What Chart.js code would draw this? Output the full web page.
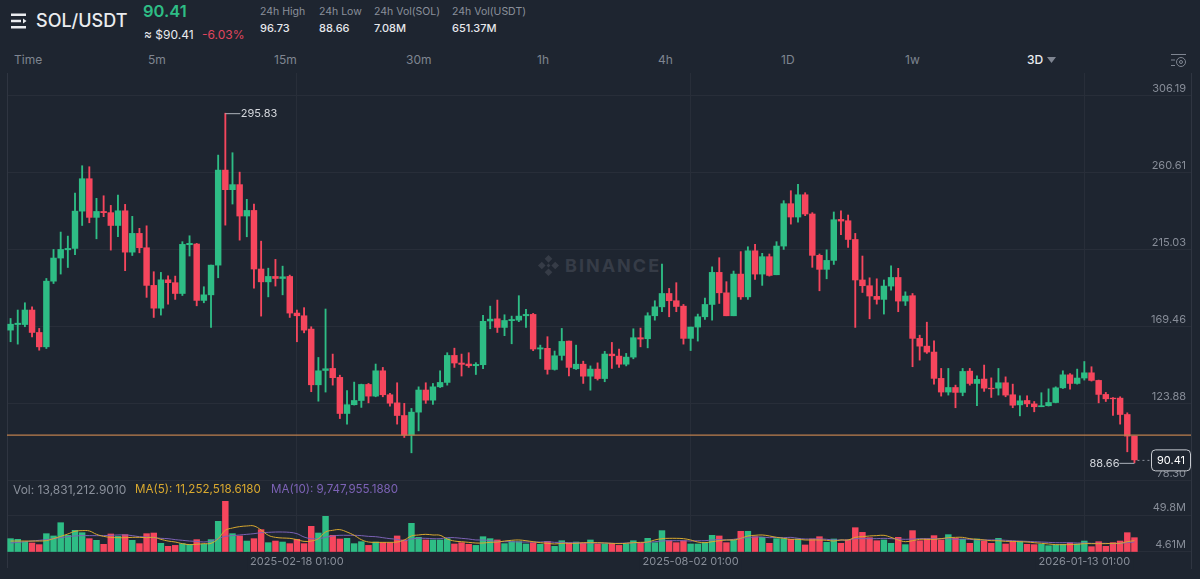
<!DOCTYPE html>
<html>
<head>
<meta charset="utf-8">
<title>SOL/USDT</title>
<script src="https://cdn.jsdelivr.net/npm/chart.js@4/dist/chart.umd.min.js"></script>
<style>
    html, body { margin: 0; padding: 0; background: #1e2530; }
    body { position: relative; width: 1200px; height: 579px; overflow: hidden; font-family: Inter, "Noto Sans", sans-serif; color: #eaecef; }
    .t { position: absolute; white-space: nowrap; line-height: 1; }
    canvas { position: absolute; left: 0; }
    #price-canvas { top: 0; }
    #volume-canvas { top: 481px; }
    .gray { color: #8a909b; }
    .small { font-size: 10.5px; }
    .stat { font-size: 11px; font-weight: 500; color: #e6e8ec; }
    .tab { font-size: 12px; color: #7f8591; top: 54px; }
    .legend { font-size: 11.6px; top: 484px; }
</style>
</head>
<body>
<svg style="position:absolute;left:10px;top:12px" width="18" height="18" viewBox="0 0 18 18">
    <path d="M1 1.5h15v2.4H1zM1 7.8h10v2.4H1zM1 14.1h15v2.4H1z" fill="#eaecef"/>
    <path d="M13 6.6l3.5 2.4-3.5 2.4z" fill="#eaecef"/>
</svg>
<div class="t" style="left:36px;top:12px;font-size:18px;font-weight:500">SOL/USDT</div>
<div class="t" style="left:143px;top:3px;font-size:16.5px;font-weight:600;color:#2ebd85">90.41</div>
<div class="t" style="left:144px;top:28.5px;font-size:12px">≈ $90.41</div>
<div class="t" style="left:202px;top:28.5px;font-size:12px;color:#e0455e">-6.03%</div>
<div class="t gray small" style="left:260px;top:7px">24h High</div>
<div class="t stat" style="left:260px;top:23px">96.73</div>
<div class="t gray small" style="left:319px;top:7px">24h Low</div>
<div class="t stat" style="left:319px;top:23px">88.66</div>
<div class="t gray small" style="left:374px;top:7px">24h Vol(SOL)</div>
<div class="t stat" style="left:374px;top:23px">7.08M</div>
<div class="t gray small" style="left:452px;top:7px">24h Vol(USDT)</div>
<div class="t stat" style="left:452px;top:23px">651.37M</div>
<div class="t tab" style="left:14px">Time</div>
<div class="t tab" style="left:148px">5m</div>
<div class="t tab" style="left:274px">15m</div>
<div class="t tab" style="left:406px">30m</div>
<div class="t tab" style="left:537px">1h</div>
<div class="t tab" style="left:658px">4h</div>
<div class="t tab" style="left:781px">1D</div>
<div class="t tab" style="left:905px">1w</div>
<div class="t tab" style="left:1027px;color:#eaecef;font-weight:500">3D</div>
<svg style="position:absolute;left:1047px;top:57px" width="9" height="6"><path d="M0 0h9L4.5 6z" fill="#7f8591"/></svg>
<svg style="position:absolute;left:1170px;top:53px" width="17" height="16" fill="none" stroke="#7f8591" stroke-width="1">
    <path d="M1 1.5h15M1 7h4M1 12.5h4"/><circle cx="11" cy="9" r="4.5"/><circle cx="11" cy="9" r="1.5"/>
</svg>
<svg style="position:absolute;left:537px;top:254px" width="23" height="23" viewBox="0 0 24 24" fill="#363c47">
    <path d="M12 1l4 4-4 4-4-4zM5 8l4 4-4 4-4-4zM19 8l4 4-4 4-4-4zM12 15l4 4-4 4-4-4zM12 10l2 2-2 2-2-2z"/>
</svg>
<div class="t" style="left:565px;top:257px;font-size:18px;font-weight:700;color:#363c47;letter-spacing:2px">BINANCE</div>
<canvas id="price-canvas" width="1200" height="481"></canvas>
<canvas id="volume-canvas" width="1200" height="98"></canvas>
<div class="t legend" style="left:13px;color:#8a909b;font-size:12px">Vol: 13,831,212.9010</div>
<div class="t legend" style="left:135px;color:#d9a92f">MA(5): 11,252,518.6180</div>
<div class="t legend" style="left:271px;color:#7c62b5">MA(10): 9,747,955.1880</div>

<script>
const opens = [
    167.3,170.6,170.6,179.2,165.9,157.4,196.3,210.0,214.9,215.7,
    237.8,257.0,234.1,237.6,236.9,229.3,238.0,213.5,224.6,216.1,
    193.8,180.3,197.1,195.4,189.0,217.9,218.3,184.9,188.2,205.8,
    262.1,250.5,253.5,234.9,238.2,203.5,195.9,199.1,197.9,199.1,
    177.4,175.8,167.9,134.9,143.4,144.6,139.3,117.9,123.1,125.6,
    135.1,128.2,143.2,129.0,124.2,116.7,105.1,118.7,131.8,125.8,
    133.7,136.3,152.3,147.8,147.2,146.2,146.8,172.7,174.0,168.9,
    172.9,173.2,175.8,176.6,156.1,156.5,144.0,152.3,160.8,144.4,
    147.1,140.0,144.2,138.6,153.1,151.9,147.1,151.3,162.8,162.2,
    175.8,181.1,189.0,184.7,181.5,162.4,169.1,175.2,182.5,201.5,
    189.4,175.8,200.5,187.0,214.3,200.5,210.8,200.1,217.1,242.2,
    234.3,247.5,236.1,211.6,203.3,208.6,232.9,232.1,221.0,197.0,
    193.6,187.3,185.5,193.4,198.5,184.5,187.7,162.4,157.8,154.3,
    138.7,130.6,133.3,130.4,143.0,135.7,138.3,132.9,132.9,136.1,
    129.0,123.0,125.6,123.6,121.9,122.5,124.4,133.1,140.8,135.7,
    138.9,142.0,137.5,129.2,127.0,127.0,117.3,104.5
];
const closes = [
    170.8,171.4,179.2,165.9,157.4,196.3,210.0,215.1,215.7,237.8,
    257.0,234.1,237.6,236.9,229.3,238.0,213.5,224.6,216.1,193.8,
    180.3,197.1,195.4,189.0,218.1,218.7,184.9,188.2,205.8,262.1,
    250.5,253.5,234.9,238.2,203.5,195.9,199.1,197.9,198.9,177.4,
    175.8,167.3,134.9,143.2,144.4,139.1,117.9,123.1,125.6,135.1,
    128.2,143.2,129.0,124.0,116.7,105.1,118.7,131.8,125.8,133.7,
    136.3,152.3,147.8,147.0,146.2,147.0,172.5,173.8,168.9,173.0,
    173.6,175.6,176.6,156.1,156.8,144.0,152.1,160.6,145.2,147.1,
    140.0,144.2,138.6,153.1,152.1,147.1,151.3,162.8,162.0,175.8,
    181.1,189.0,184.7,181.3,162.4,169.1,175.2,182.5,201.5,189.4,
    175.8,200.5,187.0,214.3,200.5,210.8,199.7,217.1,242.2,234.3,
    247.5,236.1,211.6,203.3,208.6,232.7,231.9,221.0,197.0,193.6,
    187.5,185.5,193.4,198.5,184.5,187.5,162.4,157.8,154.3,138.7,
    130.6,133.3,130.4,142.8,135.7,138.1,132.9,132.5,136.1,128.8,
    122.8,125.4,123.6,121.9,122.5,124.4,133.1,140.8,135.7,138.9,
    142.0,137.5,129.2,126.6,126.6,117.3,104.5,90.41
];
const highs = [
    174.2,179.2,183.5,181.1,168.3,197.9,215.1,225.4,223.0,248.5,
    264.7,264.1,245.4,246.9,241.2,247.3,241.8,234.7,227.6,229.1,
    201.9,201.5,199.5,199.3,219.7,223.2,218.7,193.0,205.8,271.0,
    295.83,272.4,260.9,244.8,242.0,220.0,204.0,209.2,205.2,199.9,
    179.2,180.6,169.3,151.1,179.8,153.1,140.6,131.4,136.5,135.3,
    135.7,147.2,145.2,129.8,136.1,123.9,120.9,133.7,136.1,135.7,
    143.2,153.9,156.6,153.1,153.9,148.0,176.0,181.5,185.1,176.4,
    175.6,187.7,179.6,177.2,158.4,163.4,154.9,168.3,160.8,158.4,
    148.9,146.1,147.9,154.7,160.0,156.0,153.5,168.1,168.5,177.6,
    184.7,206.4,192.0,195.4,182.5,169.1,176.8,186.3,204.8,210.2,
    196.0,202.3,213.8,216.7,218.1,212.8,212.4,219.7,244.0,249.9,
    253.7,248.7,236.9,212.4,214.9,237.3,238.0,235.5,224.6,211.2,
    198.3,197.7,197.0,205.4,203.9,190.0,189.0,164.3,172.0,161.0,
    144.6,144.6,134.7,144.6,144.6,140.2,146.6,139.0,144.6,139.6,
    135.3,128.4,128.4,125.0,130.2,132.5,133.7,143.2,141.6,144.2,
    148.7,145.6,137.7,130.4,127.4,127.8,118.3,104.5
];
const lows = [
    160.4,159.0,169.3,163.3,155.4,156.4,194.9,200.5,204.4,212.0,
    229.3,230.9,221.4,234.5,214.7,222.6,202.5,211.5,213.1,186.7,
    174.8,176.2,182.7,185.5,187.8,211.2,181.7,183.5,168.9,198.3,
    229.5,242.0,220.6,222.6,192.2,175.6,187.0,193.4,188.2,174.8,
    160.4,165.7,130.8,125.2,130.6,134.7,114.9,111.6,122.9,121.5,
    124.2,127.8,127.8,122.3,111.6,103.7,94.6,107.6,123.9,123.3,
    133.3,134.7,145.2,140.1,145.2,141.0,144.4,168.1,165.9,164.0,
    159.2,172.3,168.9,155.1,150.3,141.2,143.6,149.5,140.2,144.0,
    135.7,131.7,137.7,136.7,144.6,145.2,146.1,150.3,157.4,156.8,
    173.2,178.2,175.2,178.2,159.0,155.2,160.8,173.6,173.2,183.1,
    175.8,175.8,185.5,185.5,197.3,193.8,199.3,200.1,215.1,230.1,
    231.3,235.1,204.5,190.6,197.7,206.2,223.8,216.3,168.9,189.6,
    174.0,182.7,176.8,191.0,178.2,181.9,145.6,149.5,153.5,135.3,
    128.2,128.8,121.3,128.4,134.7,122.6,131.0,127.4,128.8,127.8,
    121.3,116.5,121.9,118.9,121.9,122.3,124.2,132.7,132.3,135.3,
    137.7,137.1,124.2,125.0,116.7,111.6,95.2,88.66
];
// volumes in millions
const volumes = [
    20.9,20.1,16.8,15.6,13.6,27.0,24.2,40.4,25.0,31.1,
    28.2,20.9,18.9,14.0,26.6,23.7,25.8,18.9,14.8,27.0,
    27.8,15.2,11.5,12.7,14.8,14.0,19.7,14.0,19.7,42.1,
    66.5,27.0,24.2,18.0,20.9,31.9,16.0,18.0,16.8,14.8,
    20.1,14.8,36.0,27.8,48.2,25.0,20.5,21.3,14.8,17.2,
    12.7,16.8,16.0,15.6,24.2,19.3,39.6,22.5,19.3,19.3,
    19.3,20.9,14.4,16.0,14.0,12.7,23.3,20.9,19.3,14.8,
    17.2,17.2,14.4,16.0,14.0,17.6,11.5,18.4,15.2,16.8,
    15.2,19.3,14.4,14.4,15.2,12.7,14.4,18.4,15.2,21.3,
    16.0,30.7,18.4,16.0,18.4,14.4,14.4,16.0,25.0,24.2,
    16.0,19.3,29.9,29.9,23.3,22.5,15.2,20.9,20.9,20.1,
    20.5,13.2,20.5,23.3,16.4,20.5,15.2,19.3,34.3,28.6,
    22.1,18.4,19.3,15.2,22.5,13.6,30.7,18.4,20.5,24.6,
    19.3,25.8,21.3,20.1,15.2,20.5,18.0,15.2,21.3,14.4,
    17.6,17.2,14.0,13.6,14.0,12.3,13.2,14.0,15.6,14.4,
    18.0,11.1,17.2,11.5,16.0,18.0,28.2,22.1
];
const ma5Values = [
    18.0,18.0,18.0,18.0,18.0,18.5,20.9,23.7,26.6,29.9,
    30.7,30.3,26.2,23.7,22.5,22.1,22.1,22.5,22.5,22.1,
    22.5,20.1,18.0,16.8,14.8,13.6,14.0,14.8,15.2,20.9,
    31.1,33.9,35.6,36.4,36.4,31.5,25.0,22.5,21.7,21.3,
    19.7,17.6,18.0,20.9,29.0,31.1,31.9,29.0,25.0,19.7,
    16.8,16.4,16.4,16.4,16.8,19.3,24.2,25.4,26.2,25.4,
    25.0,20.5,18.0,17.2,16.4,15.6,15.6,16.4,16.8,18.0,
    18.9,19.3,18.4,17.2,16.0,15.2,14.4,15.2,15.2,15.2,
    16.0,16.0,16.0,15.6,15.2,14.8,15.2,16.0,16.4,16.8,
    19.3,20.9,21.3,21.3,20.9,19.3,16.8,16.0,17.2,18.4,
    19.3,19.3,21.3,24.2,25.0,25.4,24.2,22.5,21.3,20.1,
    20.1,19.3,19.3,19.3,18.9,18.0,19.3,19.3,22.5,23.3,
    24.2,24.6,25.0,22.5,19.3,17.2,18.4,20.1,20.1,20.1,
    20.9,22.1,22.5,22.5,20.9,20.1,19.3,18.4,18.4,17.6,
    17.6,17.2,16.8,16.0,15.2,14.4,13.6,13.6,13.6,14.0,
    14.8,14.8,14.8,14.8,15.2,15.2,17.2,18.4
];
const ma10Values = [
    15.6,16.4,17.2,18.0,18.9,19.7,20.9,22.1,23.3,24.2,
    24.6,24.6,24.6,24.6,25.0,25.4,25.4,24.6,23.3,22.9,
    22.1,21.3,20.9,19.7,18.9,18.0,17.6,16.8,18.0,20.9,
    23.7,24.6,25.4,26.2,27.0,28.2,28.6,29.0,29.0,28.6,
    27.0,22.9,20.9,20.9,22.5,24.2,25.0,25.0,25.0,24.6,
    23.7,23.3,22.1,20.9,20.1,18.4,20.5,21.3,21.3,20.9,
    20.9,22.1,22.1,21.3,20.5,19.3,19.3,18.4,17.6,17.2,
    17.2,16.8,16.8,16.8,16.8,17.2,16.4,16.4,16.0,16.0,
    15.6,15.6,15.6,15.6,15.2,15.2,15.6,16.0,16.0,16.4,
    17.2,18.0,18.4,18.4,18.4,18.0,18.4,18.4,19.3,19.7,
    19.3,20.1,21.3,22.1,22.9,22.9,22.1,22.5,22.1,22.5,
    21.3,20.5,20.5,20.5,20.1,19.3,19.3,19.3,20.9,20.9,
    20.9,20.9,21.3,20.9,20.5,20.1,20.5,20.9,20.9,20.9,
    20.9,20.9,20.1,20.5,20.1,19.3,19.3,19.3,19.3,18.9,
    18.4,18.0,17.6,17.2,16.8,16.4,16.0,16.0,16.0,15.6,
    15.6,15.2,15.2,15.2,14.8,15.2,16.0,16.8
];
const priceTicks = [306.19, 260.61, 215.03, 169.46, 123.88, 78.30];
const volumeTicks = [49.8, 4.61];
const dateTickIndexes = [40, 95, 150];
const dateTickLabels = ['2025-02-18 01:00', '2025-08-02 01:00', '2026-01-13 01:00'];
const supportLevel = [105.1];
const lastPrice = [90.41];

const fontFamily = 'Inter, "Noto Sans", sans-serif';
const green = '#2ebd85';
const red = '#f6465d';
const gridColor = '#282e39';
const frameColor = '#2f3541';
const tickColor = '#878d98';
const bgColor = '#1e2530';

const xMin = -0.5;
const xMax = 164.9;
const candleColors = closes.map((c, i) => c >= opens[i] ? green : red);

function sharedX(showLabels) {
    return {
        type: 'linear',
        offset: false,
        min: xMin,
        max: xMax,
        afterBuildTicks: scale => { scale.ticks = dateTickIndexes.map(v => ({ value: v })); },
        afterFit: scale => {
            scale.height = showLabels ? 11 : 0;
            scale.paddingLeft = 0;
            scale.paddingRight = 0;
        },
        grid: { color: gridColor, drawTicks: false, offset: false },
        border: { display: false },
        ticks: {
            display: showLabels,
            autoSkip: false,
            maxRotation: 0,
            mirror: true, // keeps the date labels from being clipped to the thin axis box
            padding: 0,
            color: tickColor,
            font: { family: fontFamily, size: 11 },
            showLabelBackdrop: true,
            backdropColor: bgColor,
            backdropPadding: 3,
            callback: value => dateTickLabels[dateTickIndexes.indexOf(value)]
        }
    };
}

function sharedY(tickValues, min, max, format) {
    return {
        type: 'linear',
        position: 'right',
        min: min,
        max: max,
        afterBuildTicks: scale => { scale.ticks = tickValues.map(v => ({ value: v })); },
        afterFit: scale => {
            scale.width = 0;
            scale.paddingTop = 0;
            scale.paddingBottom = 0;
        },
        grid: { color: gridColor, drawTicks: false },
        border: { color: frameColor },
        ticks: {
            mirror: true,
            padding: -5,
            labelOffset: -7,
            color: tickColor,
            font: { family: fontFamily, size: 11 },
            callback: format
        }
    };
}

// left border of each pane
const leftFrame = {
    id: 'leftFrame',
    beforeDatasetsDraw(chart) {
        const { ctx, chartArea } = chart;
        ctx.save();
        ctx.strokeStyle = frameColor;
        ctx.beginPath();
        ctx.moveTo(chartArea.left + 0.5, chartArea.top);
        ctx.lineTo(chartArea.left + 0.5, chartArea.bottom);
        ctx.stroke();
        ctx.restore();
    }
};

// high / low leader labels and the last price tag
const priceMarkers = {
    id: 'priceMarkers',
    afterDatasetsDraw(chart) {
        const { ctx, scales: { x, y } } = chart;
        ctx.save();
        ctx.font = '11px ' + fontFamily;
        ctx.textBaseline = 'middle';

        const hi = highs.indexOf(Math.max(...highs));
        const hx = x.getPixelForValue(hi);
        const hy = y.getPixelForValue(highs[hi]);
        ctx.strokeStyle = '#aeb3bb';
        ctx.beginPath();
        ctx.moveTo(hx, hy + 0.5);
        ctx.lineTo(hx + 15, hy + 0.5);
        ctx.stroke();
        ctx.fillStyle = '#d5d8dd';
        ctx.textAlign = 'left';
        ctx.fillText(highs[hi].toFixed(2), hx + 15.5, hy + 0.5);

        const lo = lows.indexOf(Math.min(...lows));
        const lx = x.getPixelForValue(lo);
        const ly = y.getPixelForValue(lows[lo]);
        ctx.beginPath();
        ctx.moveTo(lx, ly + 0.5);
        ctx.lineTo(lx - 15, ly + 0.5);
        ctx.stroke();
        ctx.textAlign = 'right';
        ctx.fillText(lows[lo].toFixed(2), lx - 15, ly + 1);

        const last = closes.length - 1;
        const py = y.getPixelForValue(lastPrice[0]);
        ctx.setLineDash([2, 3]);
        ctx.strokeStyle = '#8a909b';
        ctx.beginPath();
        ctx.moveTo(x.getPixelForValue(last) + 3, py + 0.5);
        ctx.lineTo(1151, py + 0.5);
        ctx.stroke();
        ctx.setLineDash([]);
        ctx.fillStyle = bgColor;
        ctx.strokeStyle = '#c7cad0';
        ctx.beginPath();
        ctx.roundRect(1151.5, py - 10, 39, 21, 4);
        ctx.fill();
        ctx.stroke();
        ctx.fillStyle = '#ffffff';
        ctx.textAlign = 'center';
        ctx.fillText(lastPrice[0].toFixed(2), 1171, py + 1);
        ctx.restore();
    }
};

new Chart(document.getElementById('price-canvas').getContext('2d'), {
    type: 'bar',
    data: {
        datasets: [
            {
                type: 'line',
                data: [{ x: xMin, y: supportLevel[0] }, { x: xMax, y: supportLevel[0] }],
                borderColor: '#bd7f4d',
                borderWidth: 1.4,
                pointRadius: 0,
                order: 0
            },
            {
                data: opens.map((o, i) => ({ x: i, y: [o, closes[i]] })),
                backgroundColor: candleColors,
                barThickness: 5.8,
                grouped: false,
                borderSkipped: false,
                order: 1
            },
            {
                data: lows.map((l, i) => ({ x: i, y: [l, highs[i]] })),
                backgroundColor: candleColors,
                barThickness: 1.2,
                grouped: false,
                borderSkipped: false,
                order: 2
            }
        ]
    },
    options: {
        responsive: false,
        animation: false,
        layout: { autoPadding: false, padding: { left: 7, right: 9, top: 73, bottom: 0 } },
        plugins: { legend: { display: false }, tooltip: { enabled: false } },
        scales: {
            x: sharedX(false),
            y: sharedY(priceTicks, 77.9, 319.64, v => v.toFixed(2))
        }
    },
    plugins: [leftFrame, priceMarkers]
});

new Chart(document.getElementById('volume-canvas').getContext('2d'), {
    type: 'bar',
    data: {
        datasets: [
            {
                type: 'line',
                data: ma5Values.map((v, i) => ({ x: i, y: v })),
                borderColor: '#d9a92f',
                borderWidth: 1,
                pointRadius: 0,
                tension: 0.4,
                order: 0
            },
            {
                type: 'line',
                data: ma10Values.map((v, i) => ({ x: i, y: v })),
                borderColor: '#7c62b5',
                borderWidth: 1,
                pointRadius: 0,
                tension: 0.4,
                order: 0
            },
            {
                data: volumes.map((v, i) => ({ x: i, y: v })),
                backgroundColor: candleColors,
                barThickness: 5.8,
                base: volumeTicks[1],
                order: 1
            }
        ]
    },
    options: {
        responsive: false,
        animation: false,
        layout: { autoPadding: false, padding: { left: 7, right: 9, top: 0, bottom: 0 } },
        plugins: { legend: { display: false }, tooltip: { enabled: false } },
        scales: {
            x: sharedX(true),
            y: sharedY(volumeTicks, -14.94, 91.34, v => v + 'M')
        }
    },
    plugins: [leftFrame]
});
</script>
</body>
</html>
